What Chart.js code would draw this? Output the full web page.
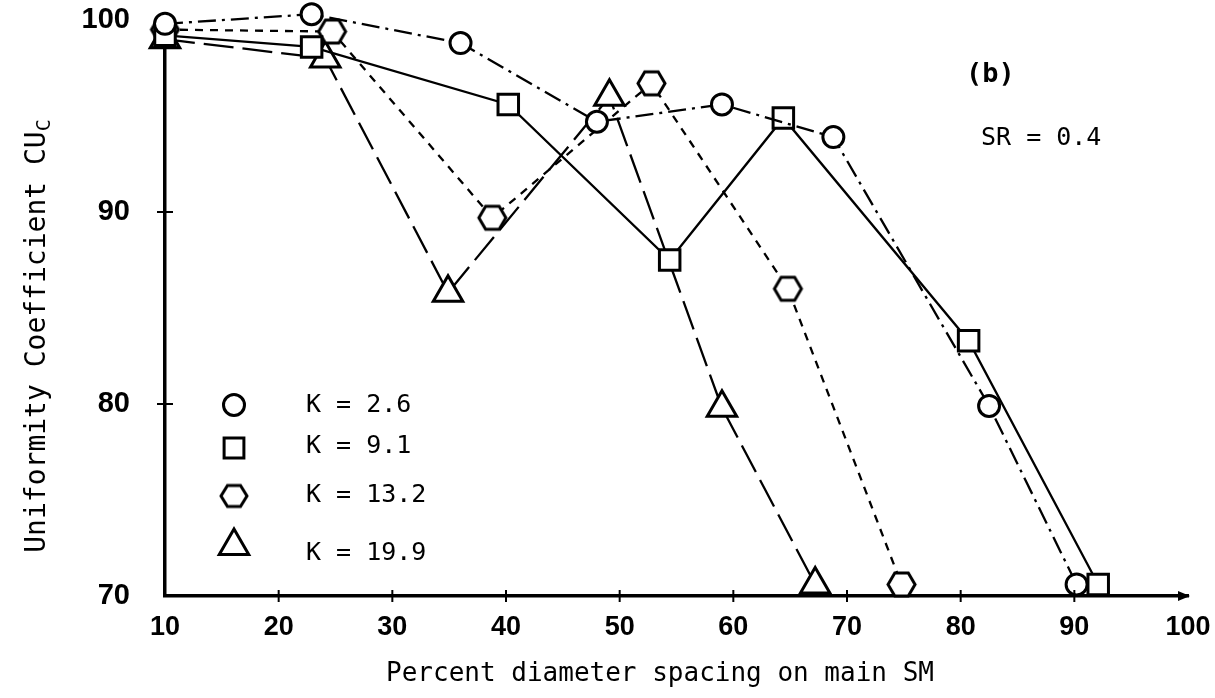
<!DOCTYPE html>
<html>
<head>
<meta charset="utf-8">
<script src="https://cdn.jsdelivr.net/npm/chart.js@4.4.0/dist/chart.umd.min.js"></script>
<style>
  html, body { margin: 0; padding: 0; background: #fff; }
  #wrap { width: 1215px; height: 698px; }
</style>
</head>
<body>
<div id="wrap"><canvas id="c" width="1215" height="698"></canvas></div>
<script>
// Uniformity coefficient vs. percent diameter spacing, SR = 0.4
const seriesLabels = ['K = 2.6', 'K = 9.1', 'K = 13.2', 'K = 19.9'];

const k26X  = [10, 22.9, 36.0, 48.0, 59.0, 68.8, 82.5, 90.2];
const k26Y  = [99.8, 100.3, 98.8, 94.7, 95.6, 93.9, 79.9, 70.6];

const k91X  = [10, 22.9, 40.2, 54.4, 64.4, 80.7, 92.1];
const k91Y  = [99.2, 98.6, 95.6, 87.5, 94.9, 83.3, 70.6];

const k132X = [10, 24.7, 38.8, 52.8, 64.8, 74.8];
const k132Y = [99.5, 99.4, 89.7, 96.7, 86.0, 70.6];

const k199X = [10, 24.1, 34.9, 49.1, 59.0, 67.2];
const k199Y = [99.0, 98.0, 85.8, 96.0, 79.8, 70.6];

const xTickValues = [10, 20, 30, 40, 50, 60, 70, 80, 90, 100];
const yTickValues = [70, 80, 90, 100];

const pairs = (xs, ys) => xs.map((x, i) => ({ x, y: ys[i] }));

// Flat-topped hexagon marker sprite
function hexagonSprite(w, h, lw) {
  const c = document.createElement('canvas');
  c.width = Math.ceil(w + lw * 2);
  c.height = Math.ceil(h + lw * 2);
  const g = c.getContext('2d');
  const cx = c.width / 2, cy = c.height / 2, hw = w / 2, hh = h / 2, q = w / 4;
  g.beginPath();
  g.moveTo(cx - hw, cy);
  g.lineTo(cx - q, cy - hh);
  g.lineTo(cx + q, cy - hh);
  g.lineTo(cx + hw, cy);
  g.lineTo(cx + q, cy + hh);
  g.lineTo(cx - q, cy + hh);
  g.closePath();
  g.fillStyle = '#fff';
  g.fill();
  g.lineWidth = lw;
  g.strokeStyle = '#000';
  g.stroke();
  return c;
}
const hexMarker = hexagonSprite(27, 23, 3);
const hexLegend = hexagonSprite(26, 21, 3);

const common = {
  borderColor: '#000',
  backgroundColor: '#fff',
  pointBackgroundColor: '#fff',
  pointBorderColor: '#000',
  pointBorderWidth: 3,
  borderWidth: 2.3,
  showLine: true,
  tension: 0,
  clip: false
};

const datasets = [
  Object.assign({}, common, {
    label: seriesLabels[0], data: pairs(k26X, k26Y),
    pointStyle: 'circle', pointRadius: 10.5, borderDash: [18, 6, 3, 6]
  }),
  Object.assign({}, common, {
    label: seriesLabels[1], data: pairs(k91X, k91Y),
    pointStyle: 'rect', pointRadius: 14.5, borderDash: []
  }),
  Object.assign({}, common, {
    label: seriesLabels[2], data: pairs(k132X, k132Y),
    pointStyle: hexMarker, pointRadius: 12, borderDash: [8, 7]
  }),
  Object.assign({}, common, {
    label: seriesLabels[3], data: pairs(k199X, k199Y),
    pointStyle: 'triangle', pointRadius: 17, borderDash: [30, 9]
  })
];

const MONO = "'DejaVu Sans Mono', 'Liberation Mono', monospace";

const decorations = {
  id: 'decorations',
  afterDraw(chart) {
    const ctx = chart.ctx;
    const xs = chart.scales.x, ys = chart.scales.y;
    const area = chart.chartArea;
    ctx.save();
    ctx.strokeStyle = '#000';
    ctx.fillStyle = '#000';

    // tick marks crossing the axes
    ctx.lineWidth = 2;
    xTickValues.slice(1, -1).forEach(v => {
      const px = xs.getPixelForValue(v);
      ctx.beginPath();
      ctx.moveTo(px, area.bottom - 6);
      ctx.lineTo(px, area.bottom + 6);
      ctx.stroke();
    });
    yTickValues.slice(1, -1).forEach(v => {
      const py = ys.getPixelForValue(v);
      ctx.beginPath();
      ctx.moveTo(area.left - 8, py);
      ctx.lineTo(area.left + 8, py);
      ctx.stroke();
    });

    // arrowhead at the end of the x axis
    const ax = xs.getPixelForValue(100);
    ctx.beginPath();
    ctx.moveTo(ax + 2, area.bottom);
    ctx.lineTo(ax - 10, area.bottom - 5);
    ctx.lineTo(ax - 10, area.bottom + 5);
    ctx.closePath();
    ctx.fill();

    // axis titles
    ctx.textBaseline = 'middle';
    ctx.textAlign = 'center';
    ctx.font = '26px ' + MONO;
    ctx.fillText('Percent diameter spacing on main SM', 660, 674);

    ctx.save();
    ctx.translate(38, 336);
    ctx.rotate(-Math.PI / 2);
    const main = 'Uniformity Coefficient CU';
    ctx.font = '28px ' + MONO;
    const w1 = ctx.measureText(main).width;
    ctx.font = '20px ' + MONO;
    const w2 = ctx.measureText('C').width;
    const start = -(w1 + w2) / 2;
    ctx.textAlign = 'left';
    ctx.font = '28px ' + MONO;
    ctx.fillText(main, start, 0);
    ctx.font = '20px ' + MONO;
    ctx.fillText('C', start + w1, 7);
    ctx.restore();

    // panel annotations
    ctx.textAlign = 'left';
    ctx.font = 'bold 27px ' + MONO;
    ctx.fillText('(b)', 966, 75);
    ctx.font = '25px ' + MONO;
    ctx.fillText('SR = 0.4', 981, 138);

    // key
    const keyY = [405, 448, 496, 546];
    const keyTextY = [405, 446, 495, 553];
    const keyStyles = [
      { pointStyle: 'circle', radius: 10.5 },
      { pointStyle: 'rect', radius: 14 },
      { pointStyle: hexLegend, radius: 12 },
      { pointStyle: 'triangle', radius: 17 }
    ];
    ctx.lineWidth = 3;
    ctx.fillStyle = '#fff';
    keyStyles.forEach((s, i) => {
      ctx.beginPath();
      Chart.helpers.drawPoint(ctx, { pointStyle: s.pointStyle, radius: s.radius, rotation: 0, borderWidth: 3 }, 234, keyY[i]);
    });
    ctx.fillStyle = '#000';
    ctx.font = '25px ' + MONO;
    seriesLabels.forEach((t, i) => ctx.fillText(t, 306, keyTextY[i]));

    ctx.restore();
  }
};

new Chart(document.getElementById('c'), {
  type: 'scatter',
  data: { datasets },
  options: {
    responsive: false,
    animation: false,
    devicePixelRatio: 1,
    layout: { autoPadding: false, padding: { top: 20, right: 27, left: 0, bottom: 0 } },
    plugins: { legend: { display: false }, tooltip: { enabled: false } },
    scales: {
      x: {
        type: 'linear', min: 10, max: 100,
        afterBuildTicks: s => { s.ticks = xTickValues.map(v => ({ value: v })); },
        afterFit: s => { s.height = 102; },
        grid: { display: false, drawTicks: true, tickLength: 12 },
        border: { display: true, color: '#000', width: 3.5 },
        ticks: {
          padding: 3, color: '#000',
          font: { family: "'Liberation Sans', Arial, sans-serif", size: 27, weight: 'bold' },
          maxRotation: 0, autoSkip: false
        }
      },
      y: {
        type: 'linear', min: 70, max: 100,
        afterBuildTicks: s => { s.ticks = yTickValues.map(v => ({ value: v })); },
        afterFit: s => { s.width = 165; },
        grid: { display: false, drawTicks: true, tickLength: 33 },
        border: { display: true, color: '#000', width: 3.5 },
        ticks: {
          padding: 2, color: '#000',
          font: { family: "'Liberation Sans', Arial, sans-serif", size: 29, weight: 'bold' }
        }
      }
    }
  },
  plugins: [decorations]
});
</script>
</body>
</html>
